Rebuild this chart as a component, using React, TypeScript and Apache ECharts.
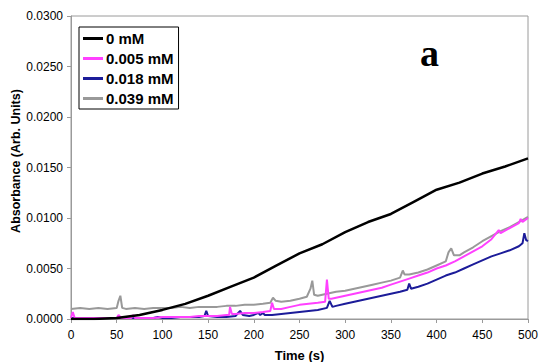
import React, { useEffect, useRef } from "react";
import * as echarts from "echarts";

const seriesNames = ["0 mM", "0.005 mM", "0.018 mM", "0.039 mM"];
const seriesColors = ["#000000", "#ff40ff", "#1c1c99", "#999999"];

const xTicks = { min: 0, max: 500, interval: 50 };
const yTicks = { min: 0, max: 0.03, interval: 0.005 };

const data0mM: [number, number][] = [
  [0, 0.0], [25, 0.0], [50, 0.0001], [75, 0.0004], [100, 0.0009], [125, 0.0015],
  [150, 0.0023], [175, 0.0032], [200, 0.0041], [225, 0.0053], [250, 0.0065],
  [275, 0.0074], [300, 0.0086], [325, 0.0096], [350, 0.0104], [375, 0.0116],
  [400, 0.0128], [425, 0.0135], [450, 0.0144], [475, 0.0151], [500, 0.0159],
];

const data005mM: [number, number][] = [
  [0, 0.0001], [2, 0.0007], [4, 0.0001], [10, 0.0001], [20, 0.0001], [30, 0.0001],
  [40, 0.0001], [50, 0.0001], [52, 0.0004], [55, 0.0001], [66, 0.0001], [68, 0.0004],
  [70, 0.0001], [80, 0.0001], [90, 0.0001], [100, 0.0002], [110, 0.0002], [120, 0.0002],
  [130, 0.0002], [140, 0.0003], [150, 0.0003], [160, 0.0003], [170, 0.0004], [173, 0.0004],
  [174, 0.0012], [176, 0.0005], [180, 0.0005], [190, 0.0006], [200, 0.0006], [210, 0.0007],
  [218, 0.0008], [220, 0.0016], [222, 0.001], [230, 0.001], [240, 0.0012], [250, 0.0014],
  [260, 0.0015], [270, 0.0016], [278, 0.0017], [280, 0.0039], [282, 0.002], [285, 0.002],
  [290, 0.0021], [300, 0.0023], [310, 0.0025], [320, 0.0027], [330, 0.0029], [340, 0.0031],
  [350, 0.0034], [360, 0.0037], [370, 0.004], [380, 0.0043], [390, 0.0046], [400, 0.005],
  [410, 0.0053], [420, 0.0057], [430, 0.0062], [440, 0.0067], [450, 0.0072], [460, 0.0079],
  [468, 0.0088], [470, 0.0085], [480, 0.009], [490, 0.0095], [492, 0.0099], [494, 0.0096],
  [500, 0.01],
];

const data018mM: [number, number][] = [
  [0, 0.0001], [10, 0.0001], [20, 0.0001], [30, 0.0001], [40, 0.0001], [50, 0.0001],
  [60, 0.0001], [70, 0.0001], [80, 0.0001], [90, 0.0001], [95, 0.0002], [100, 0.0001],
  [110, 0.0001], [120, 0.0002], [130, 0.0002], [140, 0.0002], [146, 0.0003], [148, 0.0008],
  [150, 0.0003], [160, 0.0002], [170, 0.0002], [180, 0.0003], [185, 0.0008], [188, 0.0004],
  [195, 0.0003], [200, 0.0004], [205, 0.0006], [207, 0.0004], [210, 0.0006], [212, 0.0004],
  [220, 0.0004], [230, 0.0005], [240, 0.0006], [250, 0.0007], [260, 0.0008], [270, 0.0009],
  [280, 0.0011], [283, 0.0018], [286, 0.0012], [290, 0.0013], [300, 0.0015], [310, 0.0017],
  [320, 0.0019], [330, 0.0021], [340, 0.0023], [350, 0.0025], [360, 0.0027], [368, 0.0029],
  [370, 0.0035], [372, 0.003], [380, 0.0032], [390, 0.0035], [400, 0.0039], [410, 0.0043],
  [420, 0.0046], [430, 0.005], [440, 0.0054], [450, 0.0058], [460, 0.0062], [470, 0.0065],
  [480, 0.0068], [490, 0.0072], [494, 0.0075], [496, 0.0085], [498, 0.0078], [500, 0.0077],
];

const data039mM: [number, number][] = [
  [0, 0.001], [10, 0.0011], [20, 0.001], [30, 0.0011], [40, 0.001], [50, 0.0011],
  [52, 0.0018], [54, 0.0023], [56, 0.0011], [60, 0.001], [70, 0.0011], [80, 0.001],
  [90, 0.0011], [100, 0.0011], [110, 0.0011], [120, 0.0012], [130, 0.0011], [140, 0.0012],
  [150, 0.0012], [160, 0.0012], [170, 0.0013], [180, 0.0013], [190, 0.0014], [200, 0.0014],
  [210, 0.0015], [218, 0.0016], [221, 0.0021], [224, 0.0018], [230, 0.0017], [240, 0.0018],
  [250, 0.002], [258, 0.0022], [262, 0.003], [264, 0.0038], [266, 0.0024], [270, 0.0023],
  [280, 0.0025], [290, 0.0027], [300, 0.0028], [310, 0.003], [320, 0.0032], [330, 0.0034],
  [340, 0.0036], [350, 0.0038], [360, 0.0041], [363, 0.0048], [365, 0.0044], [370, 0.0044],
  [380, 0.0046], [390, 0.0049], [400, 0.0053], [410, 0.0057], [413, 0.0066], [416, 0.007],
  [419, 0.0063], [425, 0.0063], [430, 0.0066], [440, 0.0071], [450, 0.0077], [460, 0.0082],
  [470, 0.0087], [480, 0.0091], [490, 0.0096], [500, 0.0101],
];

const allData = [data0mM, data005mM, data018mM, data039mM];
const lineWidths = [2.5, 2, 2, 2];
const panelLabel = "a";
const xTitle = "Time (s)";
const yTitle = "Absorbance (Arb. Units)";

const FONT = "'Liberation Sans', Arial, sans-serif";
const LEGEND_ICON = "path://M0,0 L20,0 L20,3 L0,3 Z";

export default function App() {
  const ref = useRef<HTMLDivElement>(null);
  useEffect(() => {
    if (!ref.current) return;
    const chart = echarts.init(ref.current, null, { renderer: "svg" });
    chart.setOption({
      animation: false,
      backgroundColor: "#ffffff",
      textStyle: { fontFamily: FONT },
      grid: {
        left: 71,
        right: 13,
        top: 16,
        bottom: 43,
        containLabel: false,
        outerBoundsMode: "none",
        show: true,
        borderColor: "#9a9a9a",
        borderWidth: 1,
      },
      legend: {
        orient: "vertical",
        left: 79,
        top: 27,
        padding: [4, 5, 3, 4],
        itemGap: 5,
        itemWidth: 20,
        itemHeight: 14,
        borderColor: "#000",
        borderWidth: 1,
        backgroundColor: "#fff",
        textStyle: {
          fontFamily: FONT,
          fontWeight: "bold",
          fontSize: 15,
          lineHeight: 14,
          color: "#000",
          padding: [0, 0, 0, -2],
        },
        data: seriesNames.map((name, i) => ({
          name,
          icon: LEGEND_ICON,
          itemStyle: { color: seriesColors[i] },
        })),
      },
      xAxis: {
        type: "value",
        min: xTicks.min,
        max: xTicks.max,
        interval: xTicks.interval,
        name: xTitle,
        nameLocation: "middle",
        nameGap: 30,
        nameTextStyle: { fontFamily: FONT, fontWeight: "bold", fontSize: 13, color: "#000" },
        axisLine: { show: true, lineStyle: { color: "#9a9a9a", width: 1 } },
        axisTick: { show: true, length: 4, lineStyle: { color: "#9a9a9a" } },
        axisLabel: { fontFamily: FONT, fontSize: 12, color: "#000", margin: 10 },
        splitLine: { show: false },
      },
      yAxis: {
        type: "value",
        min: yTicks.min,
        max: yTicks.max,
        interval: yTicks.interval,
        axisLine: { show: true, lineStyle: { color: "#9a9a9a", width: 1 } },
        axisTick: { show: true, length: 4, lineStyle: { color: "#9a9a9a" } },
        axisLabel: {
          fontFamily: FONT,
          fontSize: 12,
          color: "#000",
          margin: 8,
          formatter: (v: number) => v.toFixed(4),
        },
        splitLine: { show: false },
      },
      graphic: [
        {
          type: "text",
          left: 420,
          top: 34,
          style: {
            text: panelLabel,
            font: "bold 38px 'Liberation Serif', 'Times New Roman', serif",
            fill: "#000",
          },
        },
        {
          type: "text",
          x: 16,
          y: 161,
          rotation: Math.PI / 2,
          style: {
            text: yTitle,
            font: `bold 12.5px ${FONT}`,
            fill: "#000",
            align: "center",
            verticalAlign: "middle",
          },
        },
      ],
      series: seriesNames.map((name, i) => ({
        name,
        type: "line",
        data: allData[i],
        showSymbol: false,
        symbol: "none",
        z: 10 - i,
        lineStyle: { color: seriesColors[i], width: lineWidths[i] },
        itemStyle: { color: seriesColors[i] },
      })),
    });
    return () => chart.dispose();
  }, []);
  return <div ref={ref} style={{ width: 541, height: 362, position: "absolute", left: 0, top: 0 }} />;
}
